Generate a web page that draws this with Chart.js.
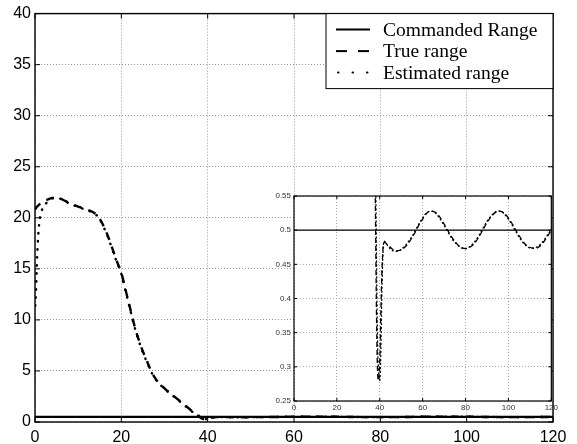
<!DOCTYPE html>
<html>
<head>
<meta charset="utf-8">
<script src="https://cdn.jsdelivr.net/npm/chart.js@4"></script>
<style>
  body { margin: 0; background: #fff; }
  #wrap { position: relative; width: 577px; height: 444px; }
  #mainChart { position: absolute; left: 0; top: 0; }
  #insetChart { position: absolute; left: 260px; top: 185px; }
</style>
</head>
<body>
<div id="wrap">
  <canvas id="mainChart" width="577" height="444"></canvas>
  <canvas id="insetChart" width="300" height="230"></canvas>
</div>
<script>
// time axis (shared by true and estimated range)
const time = [0, 0.25, 0.5, 0.75, 1, 1.5, 2, 3, 4, 5, 6, 7, 8,
  10, 12, 14, 15, 16, 17, 18, 19, 20, 21, 22, 23, 24, 25, 26, 27, 28,
  30, 32, 34, 36, 37, 37.5, 38, 38.5, 39, 39.5, 40, 40.5, 41, 41.5,
  42, 44, 46, 48, 50, 52, 54, 56, 58, 60, 62, 64, 66, 68, 70, 72, 74, 76, 78, 80,
  82, 84, 86, 88, 90, 92, 94, 96, 98, 100, 102, 104, 106, 108, 110, 112, 114, 116, 118, 120];

const trueRange = [20.8, 20.95, 21.1, 21.2, 21.3, 21.45, 21.6, 21.8, 21.95, 22.0, 21.85, 21.65, 21.45,
  21.1, 20.8, 20.4, 19.9, 19.1, 18.1, 16.9, 15.7, 14.6, 12.9, 11.2, 9.5, 8.1, 6.9, 5.9, 4.9, 4.2,
  3.3, 2.6, 1.9, 1.2, 0.85, 0.68, 0.52, 0.37, 0.29, 0.28, 0.31, 0.38, 0.44, 0.472,
  0.482, 0.478, 0.472, 0.47, 0.471, 0.476, 0.484, 0.494, 0.506, 0.516,
  0.525, 0.528, 0.526, 0.519, 0.509, 0.498, 0.488, 0.48, 0.475, 0.473,
  0.475, 0.48, 0.489, 0.5, 0.511, 0.52, 0.526, 0.528, 0.525, 0.518,
  0.508, 0.497, 0.487, 0.479, 0.475, 0.473, 0.475, 0.481, 0.49, 0.5];

const estimatedRange = [10.8, 13.0, 16.2, 18.3, 19.5, 20.6, 21.1, 21.6, 21.9, 21.95, 21.85, 21.6, 21.4,
  21.05, 20.75, 20.35, 19.85, 19.0, 18.0, 16.8, 15.6, 14.5, 12.8, 11.1, 9.4, 8.0, 6.8, 5.8, 4.85, 4.15,
  3.25, 2.55, 1.85, 1.15, 0.82, 0.7, 0.6, 0.45, 0.33, 0.29, 0.28, 0.32, 0.41, 0.468,
  0.484, 0.476, 0.47, 0.469, 0.472, 0.478, 0.486, 0.496, 0.508, 0.518,
  0.526, 0.528, 0.525, 0.517, 0.507, 0.496, 0.486, 0.479, 0.474, 0.473,
  0.476, 0.482, 0.491, 0.502, 0.513, 0.521, 0.527, 0.528, 0.524, 0.516,
  0.506, 0.495, 0.485, 0.478, 0.474, 0.474, 0.477, 0.483, 0.492, 0.501];

const commandedTime = [0, 120];
const commandedRange = [0.5, 0.5];

const seriesLabels = ['Commanded Range', 'True range', 'Estimated range'];

// main axes ticks
const mainXTicks = [0, 20, 40, 60, 80, 100, 120];
const mainYTicks = [0, 5, 10, 15, 20, 25, 30, 35, 40];
// inset axes ticks
const insetXTicks = [0, 20, 40, 60, 80, 100, 120];
const insetYTicks = [0.25, 0.3, 0.35, 0.4, 0.45, 0.5, 0.55];

function pts(xs, ys) {
  return xs.map((x, i) => ({ x: x, y: ys[i] }));
}

function makeDatasets(w, dashTrue, dashEst, estOffset) {
  return [
    { label: seriesLabels[0], data: pts(commandedTime, commandedRange),
      borderColor: '#000', borderWidth: w, pointRadius: 0 },
    { label: seriesLabels[1], data: pts(time, trueRange),
      borderColor: '#000', borderWidth: w, borderDash: dashTrue, pointRadius: 0,
      cubicInterpolationMode: 'monotone' },
    { label: seriesLabels[2], data: pts(time, estimatedRange),
      borderColor: '#000', borderWidth: w, borderDash: dashEst, borderDashOffset: estOffset,
      borderCapStyle: 'round', pointRadius: 0, cubicInterpolationMode: 'monotone' }
  ];
}

// frame + inward tick marks, matlab style
const framePlugin = {
  id: 'frame',
  beforeDraw(chart, args, opts) {
    if (opts.fill) {
      const a = chart.chartArea;
      chart.ctx.save();
      chart.ctx.fillStyle = '#fff';
      chart.ctx.fillRect(a.left, a.top, a.right - a.left, a.bottom - a.top);
      chart.ctx.restore();
    }
  },
  afterDatasetsDraw(chart, args, opts) {
    const ctx = chart.ctx, a = chart.chartArea;
    const len = opts.tick || 5;
    ctx.save();
    ctx.strokeStyle = '#000';
    ctx.lineWidth = opts.width || 1;
    ctx.strokeRect(a.left, a.top, a.right - a.left, a.bottom - a.top);
    ctx.lineWidth = 1;
    ctx.beginPath();
    chart.scales.x.ticks.forEach(t => {
      const px = chart.scales.x.getPixelForValue(t.value);
      ctx.moveTo(px, a.bottom); ctx.lineTo(px, a.bottom - len);
      ctx.moveTo(px, a.top); ctx.lineTo(px, a.top + len);
    });
    chart.scales.y.ticks.forEach(t => {
      const py = chart.scales.y.getPixelForValue(t.value);
      ctx.moveTo(a.left, py); ctx.lineTo(a.left + len, py);
      ctx.moveTo(a.right, py); ctx.lineTo(a.right - len, py);
    });
    ctx.stroke();
    ctx.restore();
  }
};

// boxed legend in the top right corner
const boxLegend = {
  id: 'boxLegend',
  afterDraw(chart) {
    const ctx = chart.ctx, a = chart.chartArea;
    const x0 = 326, y0 = a.top, w = a.right - x0, h = 75;
    ctx.save();
    ctx.fillStyle = '#fff';
    ctx.fillRect(x0, y0, w, h);
    ctx.strokeStyle = '#000';
    ctx.lineWidth = 1;
    ctx.strokeRect(x0, y0, w, h);
    const sampleDash = [[], [11, 11], [0.5, 14]];
    ctx.font = '19.5px "Liberation Serif", "Times New Roman", serif';
    ctx.textBaseline = 'middle';
    ctx.fillStyle = '#000';
    chart.data.datasets.forEach((ds, i) => {
      const y = y0 + 16 + i * 21.5;
      ctx.beginPath();
      ctx.setLineDash(sampleDash[i]);
      ctx.lineWidth = 2;
      ctx.lineCap = i === 2 ? 'round' : 'butt';
      ctx.moveTo(i === 2 ? 338 : 336, y);
      ctx.lineTo(370, y);
      ctx.stroke();
      ctx.setLineDash([]);
      ctx.fillText(ds.label, 383, y + 1);
    });
    ctx.restore();
  }
};

function fmt(v) {
  return String(+Number(v).toFixed(2));
}

function axisOpts(min, max, tickVals, fontSize, color, gridColor, fitSize, isX, pad) {
  return {
    type: 'linear',
    min: min, max: max,
    afterBuildTicks: s => { s.ticks = tickVals.map(v => ({ value: v })); },
    afterFit: s => { if (isX) { s.height = fitSize; } else { s.width = fitSize; } },
    ticks: {
      color: color,
      padding: pad,
      callback: v => fmt(v),
      font: { family: '"Liberation Sans", Arial, Helvetica, sans-serif', size: fontSize }
    },
    grid: { color: gridColor, lineWidth: 1, drawTicks: false },
    border: { display: false, dash: [1, 2] }
  };
}

new Chart(document.getElementById('mainChart').getContext('2d'), {
  type: 'line',
  data: { datasets: makeDatasets(2.4, [8, 7], [0.5, 7.5], 2) },
  plugins: [framePlugin, boxLegend],
  options: {
    responsive: false,
    animation: false,
    layout: { padding: { top: 13, right: 24, left: 0, bottom: 0 } },
    elements: { line: { tension: 0 } },
    scales: {
      x: axisOpts(0, 120, mainXTicks, 16, '#000', '#999', 22, true, 6),
      y: axisOpts(0, 40, mainYTicks, 16, '#000', '#999', 35, false, 4)
    },
    plugins: {
      legend: { display: false },
      tooltip: { enabled: false },
      frame: { width: 1.4, tick: 5 }
    }
  }
});

new Chart(document.getElementById('insetChart').getContext('2d'), {
  type: 'line',
  data: { datasets: makeDatasets(1.3, [5, 3], [1, 3], 4) },
  plugins: [framePlugin],
  options: {
    responsive: false,
    animation: false,
    layout: { padding: { top: 11, right: 7, left: 0, bottom: 0 } },
    elements: { line: { tension: 0 } },
    scales: {
      x: axisOpts(0, 120, insetXTicks, 8, '#333', '#aaa', 14, true, 2),
      y: axisOpts(0.25, 0.55, insetYTicks, 8, '#333', '#aaa', 34, false, 3)
    },
    plugins: {
      legend: { display: false },
      tooltip: { enabled: false },
      frame: { fill: true, width: 1.2, tick: 3 }
    }
  }
});
</script>
</body>
</html>
